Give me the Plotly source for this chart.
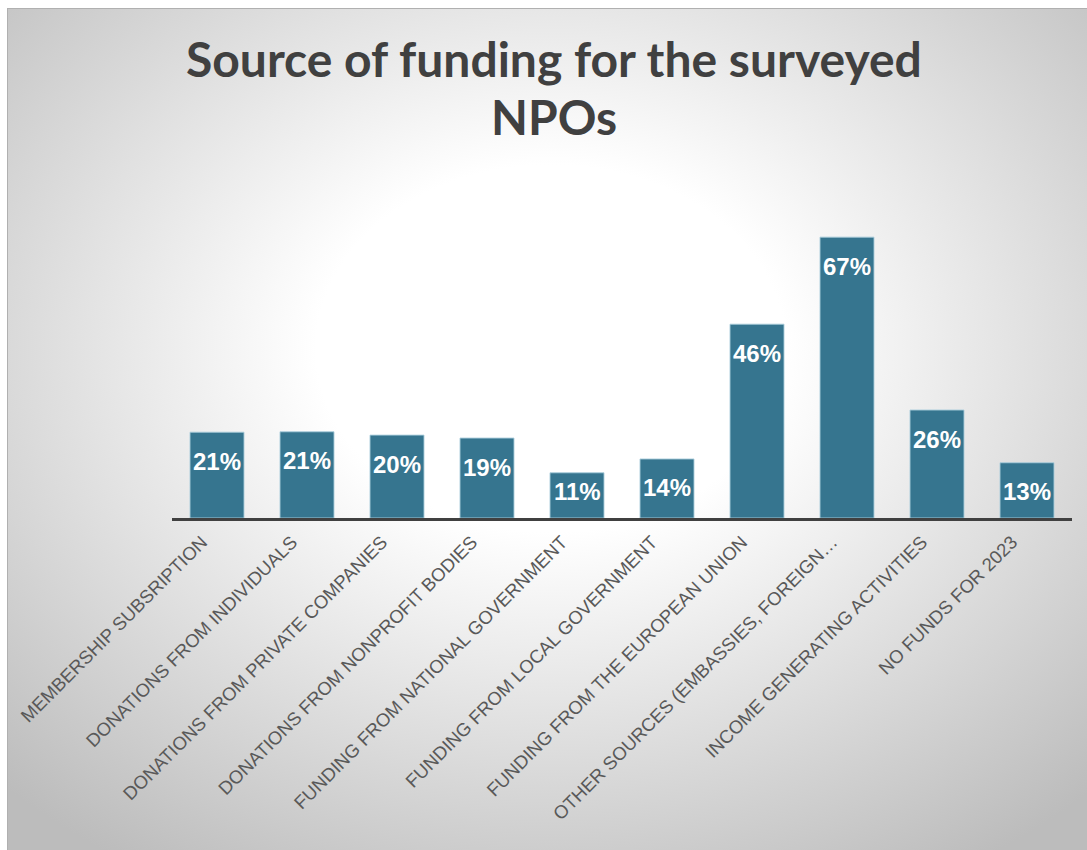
import base64
import plotly.graph_objects as go

categories = [
    "MEMBERSHIP SUBSRIPTION",
    "DONATIONS FROM INDIVIDUALS",
    "DONATIONS FROM PRIVATE COMPANIES",
    "DONATIONS FROM NONPROFIT BODIES",
    "FUNDING FROM NATIONAL GOVERNMENT",
    "FUNDING FROM LOCAL GOVERNMENT",
    "FUNDING FROM THE EUROPEAN UNION",
    "OTHER SOURCES (EMBASSIES, FOREIGN…",
    "INCOME GENERATING ACTIVITIES",
    "NO FUNDS FOR 2023",
]
values = [20.5, 20.6, 19.8, 19.1, 10.8, 14.1, 46.3, 67.1, 25.8, 13.2]
labels = ["21%", "21%", "20%", "19%", "11%", "14%", "46%", "67%", "26%", "13%"]
title_lines = ["Source of funding for the surveyed", "NPOs"]

W, H = 1087, 850
ML, MR, MT, MB = 172, 15, 225, 332
PW, PH = W - ML - MR, H - MT - MB
YMAX = 70

BAR = "#36758F"
TXT = "#404040"

svg = f"""<svg xmlns='http://www.w3.org/2000/svg' width='{W}' height='{H}' viewBox='0 0 {W} {H}' preserveAspectRatio='none'>
<defs><radialGradient id='g' cx='0.5' cy='0.4' r='0.72'>
<stop offset='0' stop-color='#ffffff'/>
<stop offset='0.3' stop-color='#ffffff'/>
<stop offset='1' stop-color='#bcbcbc'/>
</radialGradient></defs>
<rect width='{W}' height='{H}' fill='#ffffff'/>
<rect x='7.5' y='8.5' width='{W}' height='{H}' fill='url(#g)' stroke='#b0b0b0' stroke-width='1'/>
</svg>"""
src = "data:image/svg+xml;base64," + base64.b64encode(svg.encode()).decode()

fig = go.Figure()
fig.add_trace(go.Bar(
    x=categories, y=values,
    marker=dict(color=BAR, line=dict(color="rgba(170,205,220,0.9)", width=1)),
    hoverinfo="skip",
))

px_per_unit = PH / YMAX
annotations = []
for c, v, t in zip(categories, values, labels):
    ypos = max(v - 29 / px_per_unit, 27 / px_per_unit)
    annotations.append(dict(
        x=c, y=ypos, xref="x", yref="y", text=t, showarrow=False,
        yanchor="middle", xanchor="center",
        font=dict(family="Liberation Sans, Arial, sans-serif", size=24, color="white", weight="bold"),
    ))

def paper_y(py):
    return (H - MB - py) / PH

title_centers = [58, 116]
for line, py in zip(title_lines, title_centers):
    annotations.append(dict(
        x=(554 - ML) / PW, y=paper_y(py), xref="paper", yref="paper",
        text=f"<b>{line}</b>", showarrow=False, xanchor="center", yanchor="middle",
        font=dict(family="Lato, Liberation Sans, sans-serif", size=48, color=TXT),
    ))

fig.update_layout(
    width=W, height=H,
    margin=dict(l=ML, r=MR, t=MT, b=MB, autoexpand=False),
    paper_bgcolor="white",
    plot_bgcolor="rgba(0,0,0,0)",
    showlegend=False,
    bargap=0.4,
    annotations=annotations,
    images=[dict(
        source=src, xref="paper", yref="paper",
        x=-ML / PW, y=1 + MT / PH, sizex=W / PW, sizey=H / PH,
        xanchor="left", yanchor="top", sizing="stretch", layer="below",
    )],
    xaxis=dict(
        tickangle=-45, showline=True, linecolor=TXT, linewidth=3,
        showgrid=False, zeroline=False, ticks="", automargin=False,
        ticklabelshift=-15, ticklabelstandoff=3,
        tickfont=dict(family="Liberation Sans, Arial, sans-serif", size=18.5, color="#595959"),
    ),
    yaxis=dict(range=[0, YMAX], visible=False, showgrid=False, zeroline=False, automargin=False),
)

fig.write_html("out.html")
